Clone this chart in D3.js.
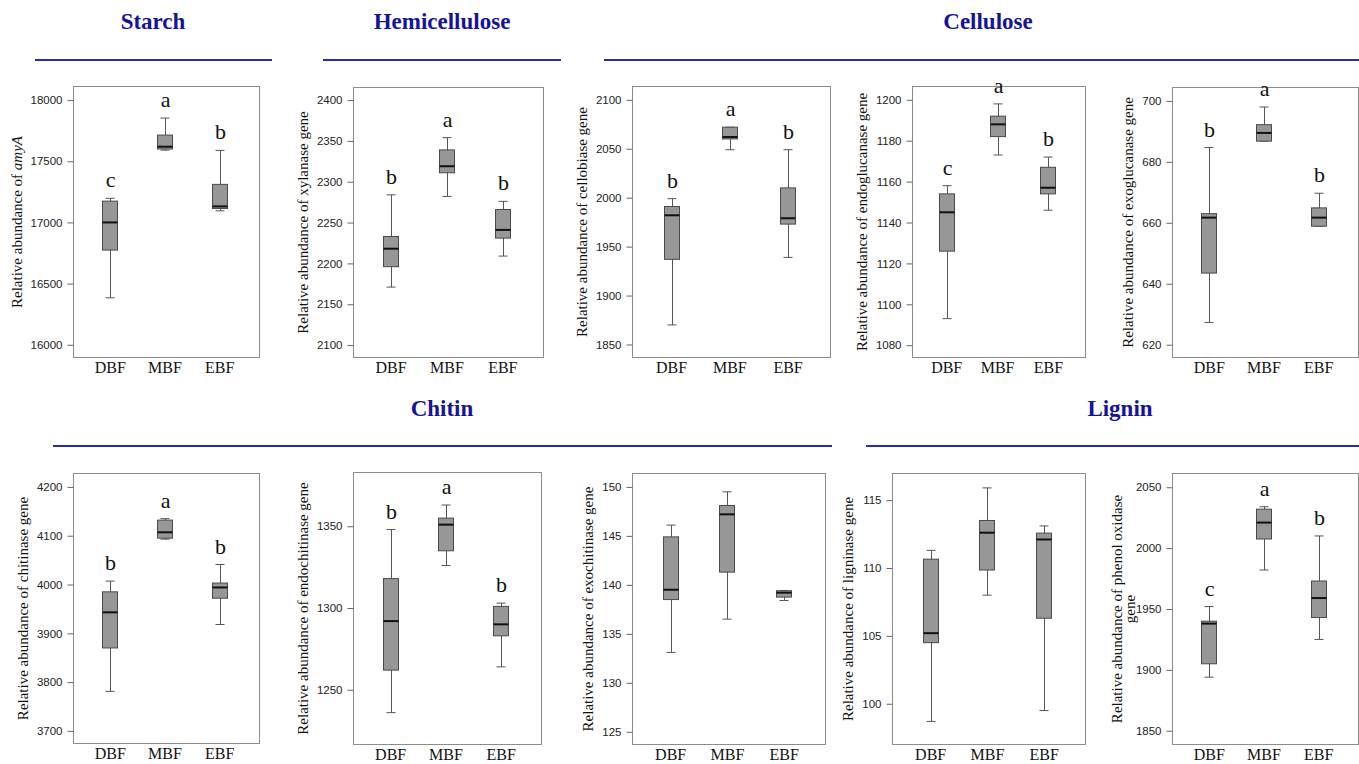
<!DOCTYPE html>
<html>
<head>
<meta charset="utf-8">
<script src="https://cdnjs.cloudflare.com/ajax/libs/d3/7.8.5/d3.min.js"></script>
<style>
  body { margin: 0; background: #fff; }
  svg { display: block; font-family: "Liberation Serif", "Times New Roman", serif; }
  .tick text { font-size: 11.5px; fill: #222; }
  .tick line { stroke: #666; }
</style>
</head>
<body>
<svg width="1359" height="764"></svg>
<script>
// groupes de gènes / forêts
var categories = ["DBF", "MBF", "EBF"];
var groupTitles = ["Starch", "Hemicellulose", "Cellulose", "Chitin", "Lignin"];

// [min, q1, median, q3, max] pour DBF, MBF, EBF
var amyA = [[16384, 16774, 17000, 17174, 17197], [17591, 17600, 17619, 17714, 17853], [17095, 17114, 17131, 17311, 17589]];
var xylanase = [[2171, 2196, 2218, 2233, 2284], [2282, 2311, 2319, 2339, 2354], [2209, 2231, 2241, 2266, 2276]];
var cellobiase = [[1870, 1937, 1982, 1991, 1999], [2049, 2060, 2062, 2072, 2072], [1939, 1973, 1979, 2010, 2049]];
var endoglucanase = [[1093, 1126, 1145, 1154, 1158], [1173, 1182, 1188, 1192, 1198], [1146, 1154, 1157, 1167, 1172]];
var exoglucanase = [[627.3, 643.5, 661.7, 663, 684.7], [686.8, 686.8, 689.5, 692.2, 698], [658.9, 658.9, 661.7, 664.9, 669.7]];
var chitinase = [[3781, 3870, 3943, 3985, 4007], [4093, 4095, 4107, 4132, 4135], [3918, 3972, 3994, 4003, 4041]];
var endochitinase = [[1236, 1262, 1292, 1318, 1348], [1326, 1335, 1351, 1355, 1363], [1264, 1283, 1290, 1301, 1303]];
var exochitinase = [[133.1, 138.5, 139.5, 144.9, 146.1], [136.5, 141.3, 147.2, 148.1, 149.5], [138.4, 138.75, 139.2, 139.4, 139.4]];
var ligninase = [[98.7, 104.5, 105.2, 110.65, 111.3], [108.0, 109.85, 112.6, 113.5, 115.9], [99.5, 106.3, 112.1, 112.57, 113.1]];
var phenolOxidase = [[1894, 1905, 1938, 1940, 1952], [1982, 2007.5, 2021, 2032, 2034], [1925, 1943, 1959, 1973, 2010]];

// lettres de significativité
var amyALetters = ["c", "a", "b"];
var xylanaseLetters = ["b", "a", "b"];
var cellobiaseLetters = ["b", "a", "b"];
var endoglucanaseLetters = ["c", "a", "b"];
var exoglucanaseLetters = ["b", "a", "b"];
var chitinaseLetters = ["b", "a", "b"];
var endochitinaseLetters = ["b", "a", "b"];
var phenolLetters = ["c", "a", "b"];

// graduations et étendues des axes y
var amyATicks = [16000, 16500, 17000, 17500, 18000];
var xylanaseTicks = [2100, 2150, 2200, 2250, 2300, 2350, 2400];
var cellobiaseTicks = [1850, 1900, 1950, 2000, 2050, 2100];
var endoglucanaseTicks = [1080, 1100, 1120, 1140, 1160, 1180, 1200];
var exoglucanaseTicks = [620, 640, 660, 680, 700];
var chitinaseTicks = [3700, 3800, 3900, 4000, 4100, 4200];
var endochitinaseTicks = [1250, 1300, 1350];
var exochitinaseTicks = [125, 130, 135, 140, 145, 150];
var ligninaseTicks = [100, 105, 110, 115];
var phenolTicks = [1850, 1900, 1950, 2000, 2050];

var amyADomain = [15896, 18111];
var xylanaseDomain = [2084.8, 2415.4];
var cellobiaseDomain = [1836.7, 2113.6];
var endoglucanaseDomain = [1074, 1206.5];
var exoglucanaseDomain = [615.8, 704.4];
var chitinaseDomain = [3674.2, 4227.5];
var endochitinaseDomain = [1216.5, 1382.9];
var exochitinaseDomain = [123.7, 151.37];
var ligninaseDomain = [97.0, 116.96];
var phenolDomain = [1838.7, 2061.3];

var panels = [
    {stats: amyA, letters: amyALetters, ticks: amyATicks, domain: amyADomain, label: ["Relative abundance of ", "amyA"], frame: [73, 86, 259, 357]},
    {stats: xylanase, letters: xylanaseLetters, ticks: xylanaseTicks, domain: xylanaseDomain, label: ["Relative abundance of xylanase gene"], frame: [353, 87, 543, 357]},
    {stats: cellobiase, letters: cellobiaseLetters, ticks: cellobiaseTicks, domain: cellobiaseDomain, label: ["Relative abundance of cellobiase gene"], frame: [632, 86, 830, 357]},
    {stats: endoglucanase, letters: endoglucanaseLetters, ticks: endoglucanaseTicks, domain: endoglucanaseDomain, label: ["Relative abundance of endoglucanase gene"], frame: [912, 86, 1085, 357]},
    {stats: exoglucanase, letters: exoglucanaseLetters, ticks: exoglucanaseTicks, domain: exoglucanaseDomain, label: ["Relative abundance of exoglucanase gene"], frame: [1172, 87, 1358, 357]},
    {stats: chitinase, letters: chitinaseLetters, ticks: chitinaseTicks, domain: chitinaseDomain, label: ["Relative abundance of chitinase gene"], frame: [73, 473, 259, 743]},
    {stats: endochitinase, letters: endochitinaseLetters, ticks: endochitinaseTicks, domain: endochitinaseDomain, label: ["Relative abundance of endochitinase gene"], frame: [353, 472, 541, 744]},
    {stats: exochitinase, letters: null, ticks: exochitinaseTicks, domain: exochitinaseDomain, label: ["Relative abundance of exochitinase gene"], frame: [632, 473, 825, 744]},
    {stats: ligninase, letters: null, ticks: ligninaseTicks, domain: ligninaseDomain, label: ["Relative abundance of ligninase gene"], frame: [892, 473, 1085, 744]},
    {stats: phenolOxidase, letters: phenolLetters, ticks: phenolTicks, domain: phenolDomain, label: ["Relative abundance of phenol oxidase", "gene"], frame: [1172, 473, 1358, 744], twoLines: true}
];

// titres de groupes et soulignés
var titles = [
    {text: groupTitles[0], x: 153, y: 29, line: [35, 272, 60]},
    {text: groupTitles[1], x: 442, y: 29, line: [323, 561, 60]},
    {text: groupTitles[2], x: 988, y: 29, line: [604, 1359, 60]},
    {text: groupTitles[3], x: 442, y: 416, line: [53, 832, 446]},
    {text: groupTitles[4], x: 1120, y: 416, line: [866, 1359, 446]}
];

var svg = d3.select("svg");

titles.forEach(function(t) {
    svg.append("text")
        .attr("x", t.x).attr("y", t.y)
        .attr("text-anchor", "middle")
        .style("font-size", "23px").style("font-weight", "bold")
        .attr("fill", "#14149a")
        .text(t.text);
    svg.append("line")
        .attr("x1", t.line[0]).attr("x2", t.line[1])
        .attr("y1", t.line[2]).attr("y2", t.line[2])
        .attr("stroke", "#2b2bb3").attr("stroke-width", 2);
});

var boxW = 15, capW = 9;

panels.forEach(function(p) {
    var L = p.frame[0] + 0.5, T = p.frame[1] + 0.5, R = p.frame[2] + 0.5, B = p.frame[3] + 0.5;
    var g = svg.append("g");

    var y = d3.scaleLinear().domain(p.domain).range([B, T]);
    var x = d3.scalePoint().domain(categories).range([L, R]).padding(0.7).align(0.48);

    g.append("rect")
        .attr("x", L).attr("y", T)
        .attr("width", R - L).attr("height", B - T)
        .attr("fill", "none").attr("stroke", "#8c8c8c");

    var ax = g.append("g")
        .attr("transform", "translate(" + L + ",0)")
        .call(d3.axisLeft(y).tickValues(p.ticks).tickFormat(d3.format("d")).tickSize(6).tickPadding(5));
    ax.select(".domain").remove();

    // étiquettes de catégories
    g.selectAll(".cat")
        .data(categories)
        .enter().append("text")
        .attr("class", "cat")
        .attr("x", function(d) { return x(d); })
        .attr("y", B + 15.5)
        .attr("text-anchor", "middle")
        .style("font-size", "16px")
        .attr("fill", "#111")
        .text(function(d) { return d; });

    // boîtes à moustaches
    var bx = g.selectAll(".bx")
        .data(p.stats)
        .enter().append("g")
        .attr("class", "bx")
        .attr("transform", function(d, i) { return "translate(" + Math.round(x(categories[i])) + ",0)"; });

    bx.append("line")
        .attr("x1", 0.5).attr("x2", 0.5)
        .attr("y1", function(d) { return y(d[0]); })
        .attr("y2", function(d) { return y(d[4]); })
        .attr("stroke", "#555");
    bx.append("line")
        .attr("x1", -capW / 2).attr("x2", capW / 2)
        .attr("y1", function(d) { return y(d[0]); })
        .attr("y2", function(d) { return y(d[0]); })
        .attr("stroke", "#555");
    bx.append("line")
        .attr("x1", -capW / 2).attr("x2", capW / 2)
        .attr("y1", function(d) { return y(d[4]); })
        .attr("y2", function(d) { return y(d[4]); })
        .attr("stroke", "#555");
    bx.append("rect")
        .attr("x", -boxW / 2)
        .attr("y", function(d) { return y(d[3]); })
        .attr("width", boxW)
        .attr("height", function(d) { return Math.max(1, y(d[1]) - y(d[3])); })
        .attr("fill", "#979797").attr("stroke", "#4a4a4a");
    bx.append("line")
        .attr("x1", -boxW / 2).attr("x2", boxW / 2)
        .attr("y1", function(d) { return y(d[2]); })
        .attr("y2", function(d) { return y(d[2]); })
        .attr("stroke", "#111").attr("stroke-width", 2);

    if (p.letters) {
        bx.append("text")
            .attr("x", 0.5)
            .attr("y", function(d) { return y(d[4]) - 11; })
            .attr("text-anchor", "middle")
            .style("font-size", "22px")
            .attr("fill", "#111")
            .text(function(d, i) { return p.letters[i]; });
    }

    // titre de l'axe y
    var bb = ax.node().getBBox();
    var cy = (T + B) / 2;
    if (p.twoLines) {
        var lab = g.append("text")
            .attr("transform", "translate(" + (L + bb.x - 14) + "," + cy + ") rotate(-90)")
            .attr("text-anchor", "middle")
            .style("font-size", "15px").attr("fill", "#111");
        lab.append("tspan").attr("x", 0).attr("y", 0).text(p.label[0]);
        lab.append("tspan").attr("x", 0).attr("y", 13).text(p.label[1]);
    } else {
        var lab2 = g.append("text")
            .attr("transform", "translate(" + (L + bb.x - 9) + "," + cy + ") rotate(-90)")
            .attr("text-anchor", "middle")
            .style("font-size", "15px").attr("fill", "#111");
        lab2.append("tspan").text(p.label[0]);
        if (p.label.length > 1) lab2.append("tspan").style("font-style", "italic").text(p.label[1]);
    }
});
</script>
</body>
</html>
